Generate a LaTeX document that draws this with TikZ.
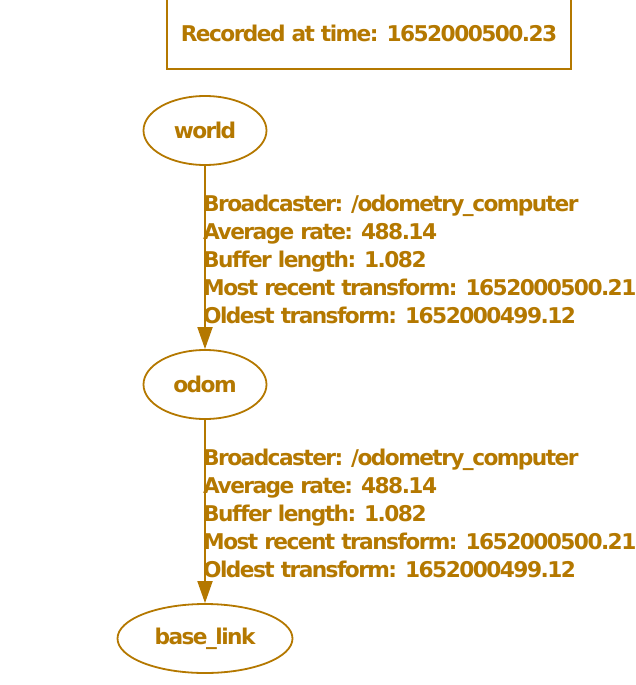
\documentclass[tikz,border=0pt]{standalone}
\usepackage{fontspec}
\setmainfont{DejaVu Sans}[LetterSpace=-7.2]
\usetikzlibrary{arrows.meta,shapes.geometric}
\definecolor{tfgold}{RGB}{180,120,0}
\begin{document}
\begin{tikzpicture}[x=1pt,y=-1pt,
  every node/.style={text=tfgold,font=\fontsize{21.7}{28}\selectfont\bfseries},
  frame/.style={draw=tfgold,line width=1.8pt,ellipse,inner sep=0pt},
  edgeline/.style={draw=tfgold,line width=1.8pt,-{Triangle[length=22pt,width=15pt]}},
  info/.style={anchor=base west,inner sep=0pt}]
\useasboundingbox (0,0) rectangle (636,685);
\draw[tfgold,line width=1.8pt] (167,-5) rectangle (571,69);
\node[anchor=base,inner sep=0pt] (rec) at (369,42) {Recorded at time: 1652000500.23};
\node[frame,minimum width=123pt,minimum height=69pt] (world) at (205,130.5) {world};
\node[frame,minimum width=123pt,minimum height=69pt] (odom) at (205,384.5) {odom};
\node[frame,minimum width=175pt,minimum height=69pt] (base) at (205,638.5) {base\_link};
\draw[edgeline] (world) -- (odom);
\draw[edgeline] (odom) -- (base);
\node[info] (a1) at (203,211) {Broadcaster: /odometry\_computer};
\node[info] (a2) at (203,239) {Average rate: 488.14};
\node[info] (a3) at (203,267) {Buffer length: 1.082};
\node[info] (a4) at (203,295) {Most recent transform: 1652000500.21};
\node[info] (a5) at (203,323) {Oldest transform: 1652000499.12};
\node[info] (b1) at (203,465) {Broadcaster: /odometry\_computer};
\node[info] (b2) at (203,493) {Average rate: 488.14};
\node[info] (b3) at (203,521) {Buffer length: 1.082};
\node[info] (b4) at (203,549) {Most recent transform: 1652000500.21};
\node[info] (b5) at (203,577) {Oldest transform: 1652000499.12};
\end{tikzpicture}
\end{document}
